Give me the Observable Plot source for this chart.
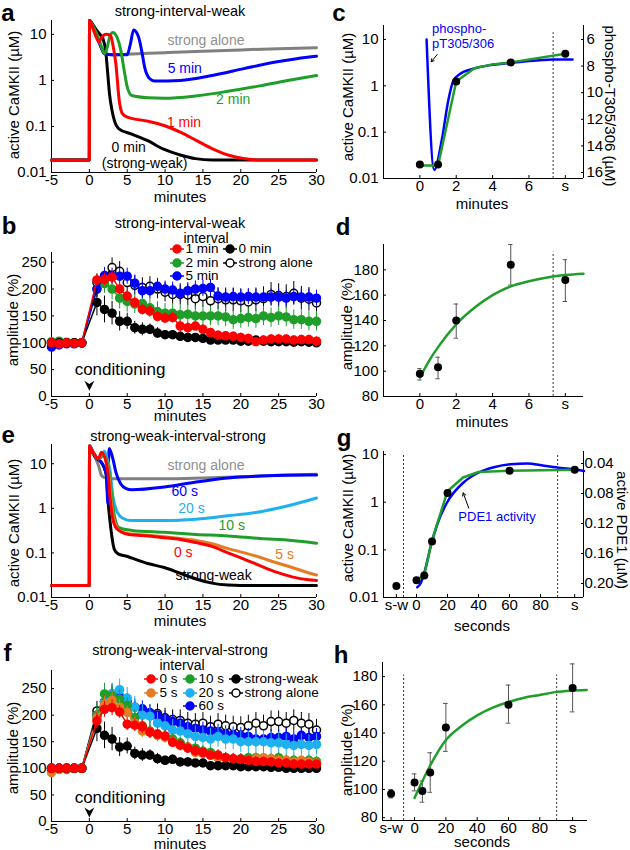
<!DOCTYPE html>
<html><head><meta charset="utf-8">
<script src="https://cdn.jsdelivr.net/npm/d3@7"></script>
<script src="https://cdn.jsdelivr.net/npm/@observablehq/plot@0.6"></script>
<style>
body{margin:0;background:#fff;}
#root{position:relative;width:630px;height:850px;overflow:hidden;background:#fff;font-family:"Liberation Sans",Arial,Helvetica,sans-serif;color:#000;}
.t{position:absolute;white-space:nowrap;line-height:1;}
.h{position:absolute;}
</style></head><body><div id="root"></div>
<script>
// ---------------- colours ----------------
const RED="#ff0000", GREEN="#1f9e2a", BLUE="#0000ff", CYAN="#1fb0ef", ORANGE="#e57b22", GRAY="#808080", BLACK="#000000";

// ---------------- tick labels ----------------
const minuteTicks = [-5,0,5,10,15,20,25,30];
const logTicks = [0.01,0.1,1,10];
const ampTicks = [0,50,100,150,200,250];
const cTicks = [0,2,4,6,8];
const cTickLabels = ["0","2","4","6","s"];
const cRightTicks = [6,8,10,12,14,16];
const dYTicks = [80,100,120,140,160,180];
const gTicks = [-13,0,20,40,60,80,102];
const gTickLabels = ["s-w","0","20","40","60","80","s"];
const gRightTicks = [0.04,0.08,0.12,0.16,0.20];
const hTicks = [-15,0,20,40,60,80,101];
const hTickLabels = ["s-w","0","20","40","60","80","s"];

// ---------------- panel a: strong-interval-weak, simulated active CaMKII (µM) vs minutes ----------------
const aStrongAlone = [[-5,0.0188],[0,0.0188],[0.02,20],[0.5,15],[1,9],[1.5,5.5],[2,3.8],[3,3.6],[5,3.7],[10,4.0],[15,4.3],[20,4.6],[25,4.9],[30,5.1]];
const a0min = [[-5,0.0188],[0,0.0188],[0.02,20],[0.5,16],[1,12],[1.4,10],[1.8,8],[2.15,4.5],[2.4,1.6],[2.66,0.51],[3.0,0.22],[3.3,0.135],[3.9,0.089],[5.6,0.068],[7.7,0.049],[9.8,0.032],[12,0.024],[14,0.020],[16.2,0.0188],[30,0.0188]];
const a5min = [[-5,0.0188],[0,0.0188],[0.02,20],[0.5,15],[1,9],[1.5,5.5],[2,3.8],[3,3.6],[5.0,3.6],[5.4,6],[5.85,12.5],[6.5,8.8],[6.9,4.5],[7.3,1.95],[7.95,1.1],[8.6,0.97],[12,1.0],[16.2,1.28],[20.4,1.8],[24.6,2.5],[28.8,3.2],[30,3.35]];
const a2min = [[-5,0.0188],[0,0.0188],[0.02,20],[0.5,15],[1,10],[1.5,6],[2.0,3.8],[2.4,5.5],[2.7,9],[3.1,11],[3.6,9],[4.15,4.5],[4.6,1.65],[5.0,0.72],[5.6,0.47],[7.75,0.42],[9.9,0.41],[14,0.46],[18.3,0.58],[22.5,0.76],[26,0.98],[30,1.28]];
const a1min = [[-5,0.0188],[0,0.0188],[0.02,20],[0.5,13],[1.0,8],[1.25,6.8],[1.6,8.5],[2.2,10],[2.8,9.5],[3.1,6],[3.5,2.3],[3.94,0.37],[4.36,0.19],[5.0,0.16],[7.75,0.13],[9.87,0.105],[12,0.075],[14.1,0.05],[16.2,0.033],[18.3,0.024],[20.5,0.020],[22,0.0188],[30,0.0188]];
const aLabels = [
  {x:15.4, y:7.4, text:"strong alone", color:"#909090"},
  {x:12.6, y:1.8, text:"5 min", color:BLUE},
  {x:19.0, y:0.38, text:"2 min", color:GREEN},
  {x:12.5, y:0.124, text:"1 min", color:RED},
  {x:5.2, y:0.035, text:"0 min", color:BLACK},
  {x:7.3, y:0.0155, text:"(strong-weak)", color:BLACK}
];

// ---------------- panel b: strong-interval-weak, amplitude (%) ----------------
const bfMinutes = [-5,-4,-3,-2,-1,1,2,3,4,5,6,7,8,9,10,11,12,13,14,15,16,17,18,19,20,21,22,23,24,25,26,27,28,29,30];
const bStrongAlone = [100,100,100,100,100,212,222,240,233,212,207,203,205,200,194,190,190,189,182,186,178,182,180,180,178,176,180,182,190,188,186,192,183,181,174];
const bStrongAloneErr = [3,3,3,3,3,15,18,18,18,18,18,18,18,18,18,18,20,20,20,20,20,20,22,22,22,22,22,22,22,22,22,22,22,22,22];
const b0min = [100,100,100,100,100,175,162,155,140,140,128,125,125,118,115,115,112,110,110,108,105,105,105,105,103,103,105,103,102,102,102,101,102,101,100];
const b0minErr = [3,3,3,3,3,25,25,22,18,15,12,12,10,10,8,8,8,8,6,6,6,6,6,6,6,6,6,6,6,6,6,6,6,6,6];
const b2min = [102,103,101,100,100,200,210,200,183,177,172,173,165,158,155,155,152,153,150,150,150,150,148,143,145,147,145,150,147,150,148,143,143,140,140];
const b2minErr = [4,4,4,4,3,15,18,20,20,20,18,18,18,18,18,18,18,18,18,18,18,18,18,18,18,18,18,18,18,18,18,18,18,18,18];
const b5min = [92,96,98,98,100,200,225,224,224,224,211,197,197,205,200,198,192,197,200,201,203,187,185,186,185,186,185,185,185,185,183,186,185,185,183];
const b5minErr = [5,5,4,4,3,15,15,15,15,15,15,15,15,15,15,15,15,15,15,15,15,15,15,15,15,15,15,15,15,15,15,15,15,15,15];
const b1min = [100,98,100,99,100,217,218,222,200,187,175,162,159,149,146,147,131,128,131,125,119,114,113,112,110,108,102,105,107,107,107,105,106,106,103];
const b1minErr = [3,3,3,3,3,12,12,12,10,10,10,10,10,10,10,10,10,10,8,8,8,8,8,8,8,8,8,8,8,8,8,8,8,8,8];

// ---------------- panel c: CaMKII activity vs interval + phospho-pT305/306 ----------------
const cPoints = [[0,0.02],[1,0.02],[2,1.24],[5,3.2],[8,4.9]];
const cFit = [[0,0.019],[1,0.019],[2,1.24],[3,2.4],[4,2.9],[5,3.2],[8,4.9]];
const cPhospho = [[0.37,6.0],[0.79,15.8],[1.2,13.6],[1.56,10.6],[1.84,9.1],[2.2,8.6],[2.93,8.2],[4.0,7.9],[5.5,7.7],[7.3,7.5],[8.4,7.5]];
const cDashed = [7.33];

// ---------------- panel d: amplitude vs interval (minutes) ----------------
const dX = [0,1,2,5,8];
const dMean = [98,103,140,184,172];
const dLo = [93,94,126,168,155];
const dHi = [102,111,153,200,188];
const dFit = [[0,95],[0.5,108],[1,119],[2,137],[3,150],[4,160],[5,167],[6,171],[7,174],[8,176],[9,177]];
const dDashed = [7.33];

// ---------------- panel e: strong-weak-interval-strong simulation ----------------
const eStrongAlone = [[-5,0.0186],[0,0.0186],[0.02,25],[0.5,17],[1.2,9.2],[1.6,5.5],[2.0,4.9],[3,4.6],[5,4.6],[10,4.6],[15,4.8],[20,5.1],[25,5.5],[30,5.8]];
const eStrongWeak = [[-5,0.0186],[0,0.0186],[0.02,25],[0.5,17],[1.0,13],[1.3,12],[1.7,10],[2.1,7],[2.25,5.4],[2.45,1.6],[2.8,0.4],[3.3,0.12],[3.8,0.095],[4.8,0.085],[7.7,0.058],[9.9,0.047],[12,0.035],[14.1,0.026],[16.2,0.021],[18.3,0.019],[20,0.0186],[30,0.0186]];
const e60s = [[-5,0.0186],[0,0.0186],[0.02,25],[0.5,17],[1.0,13],[1.3,12],[1.7,10],[2.1,7],[2.25,5.4],[2.45,1.3],[2.52,8],[2.62,22],[3.1,13],[3.5,6.5],[4.15,3.5],[4.8,2.8],[5.6,2.6],[9.9,3.0],[14.1,3.9],[18.3,4.8],[22.6,5.3],[28.9,5.6],[30,5.6]];
const e20s = [[-5,0.0186],[0,0.0186],[0.02,25],[0.5,18],[1.2,13],[1.6,14],[2.0,19],[2.4,12],[2.7,7.7],[3.1,1.9],[3.7,0.81],[4.4,0.6],[5.6,0.53],[9.9,0.53],[14.1,0.57],[18.3,0.68],[22.6,0.84],[26.8,1.2],[30,1.7]];
const e10s = [[-5,0.0186],[0,0.0186],[0.02,25],[0.5,18],[1.2,13],[1.9,16],[2.4,10],[2.7,5],[3.0,1.6],[3.3,0.7],[3.9,0.37],[5.6,0.32],[9.9,0.29],[14.1,0.26],[18.3,0.24],[22.6,0.21],[26.8,0.19],[30,0.165]];
const e5s = [[-5,0.0186],[0,0.0186],[0.02,25],[0.5,18],[1.2,13],[1.7,17],[2.3,10],[2.6,5],[2.85,1.6],[3.2,0.6],[3.6,0.38],[4.2,0.30],[5.2,0.27],[7.75,0.25],[9.9,0.23],[12,0.21],[14.1,0.19],[16.2,0.16],[18.3,0.125],[20.5,0.10],[22.6,0.079],[24.7,0.06],[26.8,0.047],[28.9,0.036],[30,0.032]];
const e0s = [[-5,0.0186],[0,0.0186],[0.02,25],[0.5,18],[1.2,13],[1.6,18],[2.2,10.9],[2.5,5.5],[2.75,1.6],[3.1,0.57],[3.5,0.37],[4.15,0.30],[5.2,0.26],[7.75,0.24],[9.9,0.22],[12,0.20],[14.1,0.17],[16.2,0.14],[18.3,0.10],[20.5,0.072],[22.6,0.051],[24.7,0.037],[26.8,0.029],[28.9,0.025],[30,0.024]];
const eLabels = [
  {x:15.4, y:9.2, text:"strong alone", color:"#909090"},
  {x:12.6, y:2.4, text:"60 s", color:BLUE},
  {x:13.5, y:1.0, text:"20 s", color:CYAN},
  {x:18.8, y:0.41, text:"10 s", color:GREEN},
  {x:12.4, y:0.102, text:"0 s", color:RED},
  {x:25.8, y:0.093, text:"5 s", color:ORANGE},
  {x:16.4, y:0.031, text:"strong-weak", color:BLACK}
];

// ---------------- panel f: strong-weak-interval-strong, amplitude (%) ----------------
const fStrongAlone = [100,100,100,100,100,208,225,240,232,222,208,202,200,203,195,192,190,185,183,185,178,183,180,178,177,180,185,180,188,188,185,190,185,183,172];
const fStrongAloneErr = [3,3,3,3,3,18,18,18,18,18,18,18,18,18,18,18,20,20,20,20,20,20,20,20,20,20,20,20,20,20,20,20,20,20,20];
const f60s = [100,100,100,100,100,200,225,238,235,225,215,212,205,200,193,188,185,178,175,172,170,168,165,163,162,160,155,155,158,158,160,155,162,158,160];
const f60sErr = [4,4,4,4,3,15,15,15,15,15,15,15,15,15,15,15,15,15,15,15,15,15,15,15,15,15,15,15,15,15,15,15,15,15,15];
const f20s = [100,100,100,100,100,195,225,240,248,232,215,200,198,185,180,172,170,165,160,158,155,160,155,155,150,150,150,150,148,148,145,143,145,143,145];
const f20sErr = [4,4,4,4,3,18,20,20,20,20,20,20,20,20,20,20,20,20,20,20,20,20,20,20,20,20,20,20,20,20,20,20,20,20,20];
const f10s = [96,98,98,100,100,200,240,236,230,218,195,180,170,165,160,155,148,140,138,132,130,120,120,118,118,120,120,118,118,120,115,115,113,115,113];
const f10sErr = [4,4,4,4,3,20,20,20,18,15,15,12,12,12,12,10,10,10,10,10,10,10,10,10,10,10,10,10,10,10,10,10,10,10,10];
const f5s = [92,98,100,100,100,195,220,228,215,205,185,170,168,162,158,150,143,140,130,128,125,120,120,118,115,115,118,120,118,115,115,112,115,112,110];
const f5sErr = [4,4,4,4,3,15,15,15,15,12,12,12,12,12,10,10,10,10,10,10,10,10,10,10,10,10,10,10,10,10,10,10,10,10,10];
const fStrongWeak = [100,100,100,100,100,175,162,155,140,142,128,125,125,118,115,117,112,112,110,110,105,105,105,105,103,103,103,103,102,102,100,100,100,100,100];
const fStrongWeakErr = [3,3,3,3,3,25,25,22,18,15,12,12,10,10,8,8,8,8,6,6,6,6,6,6,6,6,6,6,6,6,6,6,6,6,6];
const f0s = [100,100,100,100,100,189,211,214,206,183,181,178,168,164,161,149,144,138,133,130,125,125,120,118,117,115,113,113,112,110,110,108,108,108,108];
const f0sErr = [3,3,3,3,3,15,15,15,12,12,12,12,12,10,10,10,10,10,10,10,10,10,10,10,10,8,8,8,8,8,8,8,8,8,8];

// ---------------- panel g: CaMKII activity vs interval (seconds) + PDE1 ----------------
const gPoints = [[-13,0.0175],[0,0.023],[5,0.029],[10,0.15],[20,1.57],[60,4.6],[102,4.8]];
const gFit = [[0,0.023],[5,0.03],[10,0.16],[20,1.7],[30,3.3],[40,4.3],[60,4.6],[102,4.8]];
const gPDE1 = [[0.5,0.205],[2.6,0.200],[4.7,0.188],[9.6,0.147],[14.3,0.116],[19.7,0.092],[30.5,0.065],[40.2,0.052],[49.9,0.045],[60.6,0.041],[71.4,0.040],[82.2,0.043],[92.9,0.046],[102,0.048],[108,0.050]];
const gDashed = [-8.4, 91];

// ---------------- panel h: amplitude vs interval (seconds) ----------------
const hX = [-15,0,5,10,20,60,101];
const hMean = [97,105,99,112,144,160,172];
const hLo = [94,99,91,98,127,147,155];
const hHi = [100,111,106,126,161,174,189];
const hFit = [[0,94],[5,106],[10,117],[20,135],[30,145],[40,152.5],[50,158],[60,162],[70,165],[80,167],[90,169],[100,170],[110,170.5]];
const hDashed = [-7, 90.8];

// ---------------- annotations (data units) ----------------
const conditioningB = [{x:0, y:20}];
const conditioningF = [{x:0, y:17}];
const cArrow = [{x1:0.95, y1:4.7, x2:0.62, y2:3.3}];
const gArrow = [{x1:33.7, y1:0.75, x2:30.1, y2:1.57}];

// =====================================================================
const root = document.getElementById("root");
const FONT = '"Liberation Sans", Arial, Helvetica, sans-serif';
const baseStyle = {background:"transparent", overflow:"visible", fontFamily:FONT, fontSize:"15px", color:"#000"};

function mk(left, top, w, h, opts) {
  const svg = Plot.plot({width:w, height:h, marginTop:0, marginRight:0, marginBottom:0, marginLeft:0, style:baseStyle, ...opts});
  const holder = document.createElement("div");
  holder.className = "h";
  holder.style.left = left + "px"; holder.style.top = top + "px";
  holder.style.width = w + "px"; holder.style.height = h + "px";
  holder.appendChild(svg);
  root.appendChild(holder);
}
function T(str, x, y, o = {}) {
  const d = document.createElement("div");
  d.className = "t"; d.textContent = str;
  d.style.left = x + "px"; d.style.top = y + "px";
  d.style.fontSize = (o.size || 15) + "px";
  if (o.weight) d.style.fontWeight = o.weight;
  if (o.color) d.style.color = o.color;
  const tx = o.anchor === "start" ? "0" : o.anchor === "end" ? "-100%" : "-50%";
  d.style.transform = `translate(${tx},-50%)` + (o.rotate ? ` rotate(${o.rotate}deg)` : "");
  root.appendChild(d);
}
const lbl = (ticks, labels) => d => labels[ticks.indexOf(d)];
const fmt = d => String(d);
const pairLine = (data, color, w = 3) => Plot.line(data, {x: d => d[0], y: d => d[1], stroke: color, strokeWidth: w, curve: "monotone-x"});
const axX = (ticks, tf) => Plot.axisX({ticks, tickFormat: tf || fmt, tickSize: -3, tickPadding: 5, label: null});
const axY = (ticks, tf) => Plot.axisY({ticks, tickFormat: tf || fmt, tickSize: -3, tickPadding: 8, label: null});
const chevron = {draw(ctx, size) {
  const r = Math.sqrt(size / Math.PI);
  ctx.moveTo(0, r); ctx.lineTo(-r, -r); ctx.lineTo(0, -0.35 * r); ctx.lineTo(r, -r); ctx.closePath();
}};
function series(ys, errs, color, open) {
  const data = bfMinutes.map((x, i) => ({x, y: ys[i], e: errs[i]}));
  const c = open ? BLACK : color;
  return [
    Plot.ruleX(data, {x: "x", y1: d => d.y - d.e, y2: d => d.y + d.e, stroke: c, strokeWidth: 1}),
    Plot.line(data, {x: "x", y: "y", stroke: c, strokeWidth: 1.5}),
    Plot.dot(data, {x: "x", y: "y", r: 4, fill: open ? "#fff" : color, stroke: c, strokeWidth: 1.5})
  ];
}
function errorPanel(xs, mean, lo, hi) {
  return xs.map((x, i) => ({x, m: mean[i], lo: lo[i], hi: hi[i]}));
}

// ---------------- panel a ----------------
mk(51, 20, 265, 152, {
  x: {domain: [-5, 30]},
  y: {type: "log", domain: [0.01, 20]},
  marks: [
    Plot.ruleX([-5]), Plot.ruleY([0.01]),
    axX(minuteTicks), axY(logTicks),
    pairLine(aStrongAlone, GRAY), pairLine(a0min, BLACK), pairLine(a5min, BLUE), pairLine(a2min, GREEN), pairLine(a1min, RED),
    ...aLabels.map(l => Plot.text([l], {x: "x", y: "y", text: "text", fill: l.color, fontSize: 14}))
  ]
});

// ---------------- panel b ----------------
mk(51, 252, 265, 144, {
  x: {domain: [-5, 30]},
  y: {domain: [0, 268]},
  marks: [
    Plot.ruleX([-5]), Plot.ruleY([0]),
    axX(minuteTicks), axY(ampTicks),
    ...series(bStrongAlone, bStrongAloneErr, BLACK, true),
    ...series(b2min, b2minErr, GREEN),
    ...series(b5min, b5minErr, BLUE),
    ...series(b0min, b0minErr, BLACK),
    ...series(b1min, b1minErr, RED),
    Plot.dot(conditioningB, {x: "x", y: "y", r: 5, symbol: chevron, fill: BLACK, stroke: "none"})
  ]
});

// ---------------- panel c ----------------
const cX = {domain: [-2, 9]};
mk(383, 25, 200, 153, {
  x: cX, y: {type: "log", domain: [0.01, 20]},
  marks: [
    Plot.ruleX([-2]), Plot.ruleY([0.01]),
    axX(cTicks, lbl(cTicks, cTickLabels)), axY(logTicks),
    Plot.ruleX(cDashed, {y1: 0.01, y2: 14, stroke: "#333", strokeWidth: 1, strokeDasharray: "2,2"}),
    Plot.arrow(cArrow, {x1: "x1", y1: "y1", x2: "x2", y2: "y2", stroke: BLACK, strokeWidth: 1, headLength: 5})
  ]
});
mk(383, 25, 200, 153, {
  x: {...cX, axis: null}, y: {type: "linear", domain: [16.45, 4.95]},
  marks: [
    Plot.ruleX([9]),
    Plot.axisY({anchor: "right", ticks: cRightTicks, tickFormat: fmt, tickSize: -3, tickPadding: 6, label: null}),
    pairLine(cPhospho, BLUE, 2.5)
  ]
});
mk(383, 25, 200, 153, {
  x: {...cX, axis: null}, y: {type: "log", domain: [0.01, 20], axis: null},
  marks: [
    Plot.line(cFit, {x: d => d[0], y: d => d[1], stroke: GREEN, strokeWidth: 2.5}),
    Plot.dot(cPoints, {x: d => d[0], y: d => d[1], r: 4, fill: BLACK})
  ]
});

// ---------------- panel d ----------------
const dData = errorPanel(dX, dMean, dLo, dHi);
mk(383, 244, 200, 152, {
  x: cX, y: {domain: [80, 200]},
  marks: [
    Plot.ruleX([-2]), Plot.ruleY([80]),
    axX(cTicks, lbl(cTicks, cTickLabels)), axY(dYTicks),
    Plot.ruleX(dDashed, {y1: 80, y2: 194, stroke: "#333", strokeWidth: 1, strokeDasharray: "2,2"}),
    Plot.ruleX(dData, {x: "x", y1: "lo", y2: "hi", stroke: "#555", strokeWidth: 1}),
    Plot.ruleY(dData, {y: "lo", x1: d => d.x - 0.12, x2: d => d.x + 0.12, stroke: "#555", strokeWidth: 1}),
    Plot.ruleY(dData, {y: "hi", x1: d => d.x - 0.12, x2: d => d.x + 0.12, stroke: "#555", strokeWidth: 1}),
    Plot.line(dFit, {x: d => d[0], y: d => d[1], stroke: GREEN, strokeWidth: 2.5, curve: "monotone-x"}),
    Plot.dot(dData, {x: "x", y: "m", r: 4, fill: BLACK})
  ]
});

// ---------------- panel e ----------------
mk(51, 444, 265, 153, {
  x: {domain: [-5, 30]},
  y: {type: "log", domain: [0.01, 27]},
  marks: [
    Plot.ruleX([-5]), Plot.ruleY([0.01]),
    axX(minuteTicks), axY(logTicks),
    pairLine(eStrongAlone, GRAY), pairLine(eStrongWeak, BLACK), pairLine(e60s, BLUE), pairLine(e20s, CYAN),
    pairLine(e10s, GREEN), pairLine(e5s, ORANGE), pairLine(e0s, RED),
    ...eLabels.map(l => Plot.text([l], {x: "x", y: "y", text: "text", fill: l.color, fontSize: 14}))
  ]
});

// ---------------- panel f ----------------
mk(51, 670, 265, 151, {
  x: {domain: [-5, 30]},
  y: {domain: [0, 284]},
  marks: [
    Plot.ruleX([-5]), Plot.ruleY([0]),
    axX(minuteTicks), axY(ampTicks),
    ...series(fStrongAlone, fStrongAloneErr, BLACK, true),
    ...series(f60s, f60sErr, BLUE),
    ...series(f20s, f20sErr, CYAN),
    ...series(f10s, f10sErr, GREEN),
    ...series(f5s, f5sErr, ORANGE),
    ...series(fStrongWeak, fStrongWeakErr, BLACK),
    ...series(f0s, f0sErr, RED),
    Plot.dot(conditioningF, {x: "x", y: "y", r: 5, symbol: chevron, fill: BLACK, stroke: "none"})
  ]
});

// ---------------- panel g ----------------
const gX = {domain: [-21.3, 107.7]};
mk(383, 451, 200, 146, {
  x: gX, y: {type: "log", domain: [0.01, 11.6]},
  marks: [
    Plot.ruleX([-21.3]), Plot.ruleY([0.01]),
    axX(gTicks, lbl(gTicks, gTickLabels)), axY(logTicks),
    Plot.ruleX(gDashed, {y1: 0.01, y2: 10, stroke: "#333", strokeWidth: 1, strokeDasharray: "2,2"}),
    Plot.arrow(gArrow, {x1: "x1", y1: "y1", x2: "x2", y2: "y2", stroke: BLACK, strokeWidth: 1, headLength: 5})
  ]
});
mk(383, 451, 200, 146, {
  x: {...gX, axis: null}, y: {type: "linear", domain: [0.2187, 0.024]},
  marks: [
    Plot.ruleX([107.7]),
    Plot.axisY({anchor: "right", ticks: gRightTicks, tickFormat: d => d.toFixed(2), tickSize: -3, tickPadding: 4, label: null}),
    pairLine(gPDE1, BLUE, 2.5)
  ]
});
mk(383, 451, 200, 146, {
  x: {...gX, axis: null}, y: {type: "log", domain: [0.01, 11.6], axis: null},
  marks: [
    Plot.line(gFit, {x: d => d[0], y: d => d[1], stroke: GREEN, strokeWidth: 2.5}),
    Plot.dot(gPoints, {x: d => d[0], y: d => d[1], r: 4, fill: BLACK})
  ]
});

// ---------------- panel h ----------------
const hData = errorPanel(hX, hMean, hLo, hHi);
mk(382, 662, 205, 158, {
  x: {domain: [-20.5, 110.5]}, y: {domain: [78, 190]},
  marks: [
    Plot.ruleX([-20.5]), Plot.ruleY([78]),
    axX(hTicks, lbl(hTicks, hTickLabels)), axY(dYTicks),
    Plot.ruleX(hDashed, {y1: 78, y2: 181, stroke: "#333", strokeWidth: 1, strokeDasharray: "2,2"}),
    Plot.ruleX(hData, {x: "x", y1: "lo", y2: "hi", stroke: "#555", strokeWidth: 1}),
    Plot.ruleY(hData, {y: "lo", x1: d => d.x - 1.5, x2: d => d.x + 1.5, stroke: "#555", strokeWidth: 1}),
    Plot.ruleY(hData, {y: "hi", x1: d => d.x - 1.5, x2: d => d.x + 1.5, stroke: "#555", strokeWidth: 1}),
    Plot.line(hFit, {x: d => d[0], y: d => d[1], stroke: GREEN, strokeWidth: 2.5, curve: "monotone-x"}),
    Plot.dot(hData, {x: "x", y: "m", r: 4, fill: BLACK})
  ]
});

// ---------------- texts ----------------
const L = {size: 24, weight: "bold"};
T("a", 8, 13, L); T("b", 9, 226, L); T("c", 339, 13, L); T("d", 343, 227, L);
T("e", 8.3, 435, L); T("f", 7.5, 653, L); T("g", 344, 437.5, L); T("h", 341, 655, L);

T("strong-interval-weak", 180, 11, {size: 14.5});
T("strong-interval-weak", 180, 223, {size: 14.5});
T("interval", 206, 238, {size: 14});
T("strong-weak-interval-strong", 178, 436, {size: 14.5});
T("strong-weak-interval-strong", 180, 650, {size: 14.5});
T("interval", 182, 665, {size: 14});

T("active CaMKII (\u00b5M)", 13, 95, {rotate: -90});
T("amplitude (%)", 12, 320, {rotate: -90});
T("active CaMKII (\u00b5M)", 347, 97, {rotate: -90});
T("phospho-T305/306 (\u00b5M)", 610, 106, {rotate: 90});
T("amplitude (%)", 346, 324, {rotate: -90});
T("active CaMKII (\u00b5M)", 13, 523, {rotate: -90});
T("amplitude (%)", 12, 748, {rotate: -90});
T("active CaMKII (\u00b5M)", 347, 518, {rotate: -90});
T("active PDE1 (\u00b5M)", 622, 530, {rotate: 90});
T("amplitude (%)", 346, 750, {rotate: -90});

T("minutes", 180, 196); T("minutes", 180, 415); T("minutes", 482, 203); T("minutes", 482, 421);
T("minutes", 180, 620); T("minutes", 180, 843); T("seconds", 482, 625); T("seconds", 482, 841);

T("conditioning", 120, 369, {size: 17});
T("conditioning", 120, 797, {size: 17});

T("phospho-", 432, 28, {size: 13, color: BLUE, anchor: "start"});
T("pT305/306", 432, 43, {size: 13, color: BLUE, anchor: "start"});
T("PDE1 activity", 497, 516, {size: 13, color: BLUE});

// legends
function legendItem(cx, cy, color, open, label) {
  const ns = "http://www.w3.org/2000/svg";
  const s = document.createElementNS(ns, "svg");
  s.setAttribute("width", 16); s.setAttribute("height", 12);
  s.style.cssText = `position:absolute;left:${cx - 8}px;top:${cy - 6}px;overflow:visible`;
  const c = open ? BLACK : color;
  s.innerHTML = `<line x1="1" y1="6" x2="15" y2="6" stroke="${c}" stroke-width="1.5"/><circle cx="8" cy="6" r="4" fill="${open ? "#fff" : color}" stroke="${c}" stroke-width="1.5"/>`;
  root.appendChild(s);
  T(label, cx + 8.5, cy, {size: 13.5, anchor: "start"});
}
legendItem(177, 249, RED, false, "1 min");
legendItem(177, 263, GREEN, false, "2 min");
legendItem(177, 276, BLUE, false, "5 min");
legendItem(230, 249, BLACK, false, "0 min");
legendItem(230, 263, BLACK, true, "strong alone");

legendItem(151, 679, RED, false, "0 s");
legendItem(151, 693, ORANGE, false, "5 s");
legendItem(190, 679, GREEN, false, "10 s");
legendItem(190, 693, CYAN, false, "20 s");
legendItem(190, 706, BLUE, false, "60 s");
legendItem(236, 679, BLACK, false, "strong-weak");
legendItem(236, 693, BLACK, true, "strong alone");
</script></body></html>
